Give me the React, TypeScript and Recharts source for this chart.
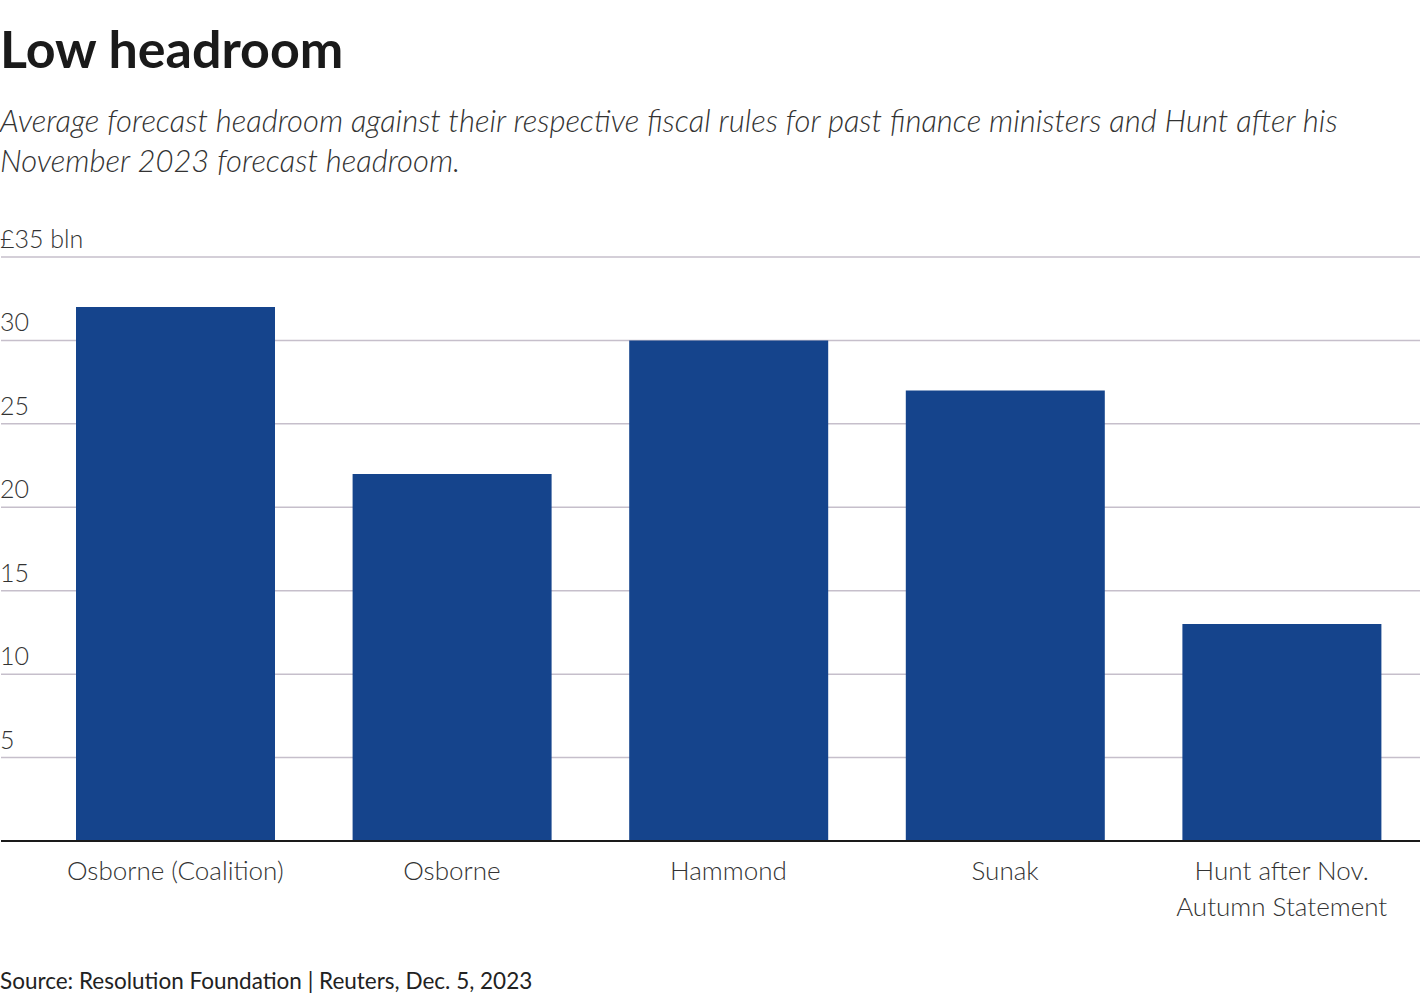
import { BarChart, Bar, XAxis, YAxis, CartesianGrid } from 'recharts';

const ministers = ['Osborne (Coalition)', 'Osborne', 'Hammond', 'Sunak', 'Hunt after Nov.\nAutumn Statement'];
const headroom = [32, 22, 30, 27, 13];
const yTicks = [0, 5, 10, 15, 20, 25, 30, 35];

const data = ministers.map((name, i) => ({ name, value: headroom[i] }));

const FONT = 'Lato, "Open Sans", sans-serif';

const renderYTick = (props: any) => {
    const { y, payload } = props;
    const v = payload.value;
    if (v === 0) return <g />;
    const label = v === 35 ? '£35 bln' : String(v);
    return (
        <text x={0} y={y - 9} fontSize={25} fontWeight={300} fill="#333" fontFamily={FONT} textAnchor="start">
            {label}
        </text>
    );
};

const renderXTick = (props: any) => {
    const { x, y, payload } = props;
    const lines = String(payload.value).split('\n');
    return (
        <text x={x} y={y + 39} fontSize={26} fontWeight={300} fill="#333" fontFamily={FONT} textAnchor="middle">
            {lines.map((l, i) => (
                <tspan key={i} x={x} dy={i === 0 ? 0 : 36}>{l}</tspan>
            ))}
        </text>
    );
};

export default function App() {
    return (
        <div style={{ position: 'absolute', left: 0, top: 0, width: 1420, height: 1000, background: '#fff', fontFamily: FONT, color: '#222' }}>
            <div style={{ position: 'absolute', left: 0, top: 16, fontSize: 52, fontWeight: 700, color: '#1a1a1a', lineHeight: '64px' }}>
                Low headroom
            </div>
            <div style={{ position: 'absolute', left: 0, top: 100, width: 1400, fontSize: 31, fontWeight: 300, fontStyle: 'italic', color: '#333', lineHeight: '40px' }}>
                Average forecast headroom against their respective fiscal rules for past finance ministers and Hunt after his November 2023 forecast headroom.
            </div>
            <div style={{ position: 'absolute', left: 0, top: 220 }}>
                <BarChart width={1420} height={720} data={data} margin={{ top: 37, right: 0, left: 0, bottom: 0 }}>
                    <CartesianGrid vertical={false} stroke="#c6bfcb" strokeWidth={1.5} />
                    <YAxis
                        width={1}
                        domain={[0, 35]}
                        ticks={yTicks}
                        interval={0}
                        axisLine={false}
                        tickLine={false}
                        tick={renderYTick}
                    />
                    <XAxis
                        dataKey="name"
                        height={99}
                        padding={{ left: 36, right: 0 }}
                        axisLine={{ stroke: '#1a1a1a', strokeWidth: 2 }}
                        tickLine={false}
                        tickSize={0}
                        tickMargin={0}
                        interval={0}
                        tick={renderXTick}
                    />
                    <Bar dataKey="value" fill="#15448c" barSize={199} isAnimationActive={false} />
                </BarChart>
            </div>
            <div style={{ position: 'absolute', left: 0, top: 967, fontSize: 22.5, color: '#222' }}>
                Source: Resolution Foundation | Reuters, Dec. 5, 2023
            </div>
        </div>
    );
}
